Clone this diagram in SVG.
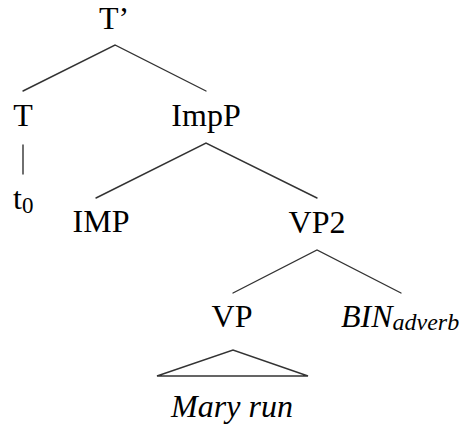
<svg xmlns="http://www.w3.org/2000/svg" width="462" height="425" viewBox="0 0 462 425">
<style>
.lbl{font-family:"Liberation Serif","Times New Roman",serif;font-size:32px;fill:#000;text-anchor:middle}
.it{font-style:italic}
.edge{stroke:#333;stroke-width:1.4;fill:none;stroke-linecap:round}
</style>
<rect width="462" height="425" fill="#fff"/>
<g id="connectors">
<path class="edge" d="M23,91 L115,45 L206,91"/>
<path class="edge" d="M23,145 L23,174"/>
<path class="edge" d="M96,198 L206,143 L317,198"/>
<path class="edge" d="M233,293 L317,250 L401,293"/>
<path class="edge" d="M157,376 L233,350 L308,376 Z"/>
</g>
<g id="node-Tbar"><text class="lbl" x="114" y="29">T’</text></g>
<g id="node-T"><text class="lbl" x="23" y="126">T</text></g>
<g id="node-ImpP"><text class="lbl" x="206" y="126">ImpP</text></g>
<g id="node-t0"><text class="lbl" x="13" y="209" style="text-anchor:start">t<tspan font-size="23" dy="4">0</tspan></text></g>
<g id="node-IMP"><text class="lbl" x="101" y="232">IMP</text></g>
<g id="node-VP2"><text class="lbl" x="317" y="233">VP2</text></g>
<g id="node-VP"><text class="lbl" x="232" y="327">VP</text></g>
<g id="node-BIN"><text class="lbl it" x="341" y="327" style="text-anchor:start">BIN<tspan font-size="24" dy="3">adverb</tspan></text></g>
<g id="node-MaryRun"><text class="lbl it" x="232" y="417">Mary run</text></g>
</svg>
